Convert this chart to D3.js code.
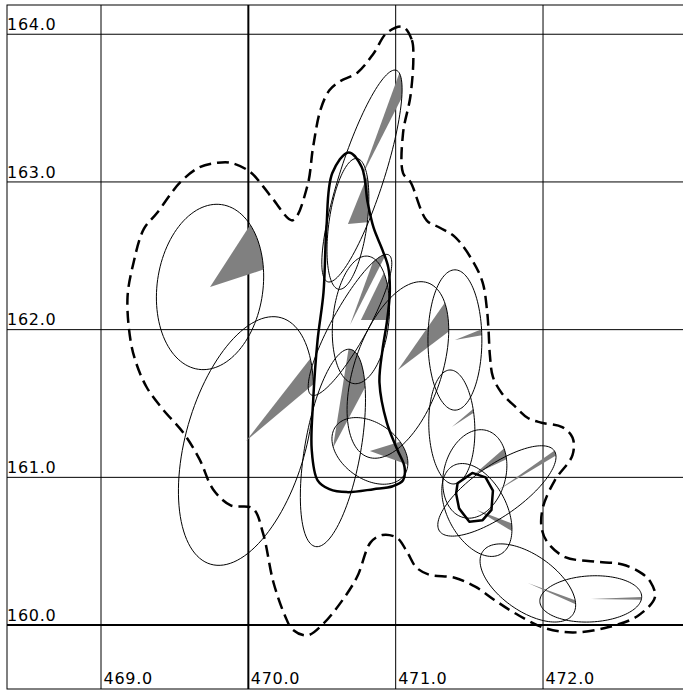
<!DOCTYPE html>
<html><head><meta charset="utf-8">
<script src="https://cdn.jsdelivr.net/npm/d3@7"></script>
<style>html,body{margin:0;padding:0;background:#fff;}svg{display:block;}</style>
</head><body>
<svg id="chart" width="683" height="691"></svg>
<script>
// Axis ticks (grid every unit; the 470 / 160 lines are drawn heavier)
const xTicks = [469, 470, 471, 472];
const yTicks = [160, 161, 162, 163, 164];
const xHeavy = 470, yHeavy = 160;

// Error ellipses: [cx, cy, semi-major, semi-minor, major-axis angle (deg),
//                  wedge start (deg), wedge end (deg)]
const ellipses = [
  [469.740, 162.289, 0.563, 0.359, 82, 18, 57],
  [469.984, 161.246, 0.868, 0.407, 74, 40, 52],
  [470.771, 163.040, 0.753, 0.149, 72, 63, 70],
  [470.676, 162.716, 0.447, 0.129, 82, 5, 68],
  [470.764, 162.066, 0.434, 0.190, 84, 0, 64],
  [470.690, 162.032, 0.542, 0.122, 61, 63, 70],
  [471.015, 161.727, 0.624, 0.295, 71, 37, 55],
  [471.402, 161.930, 0.475, 0.183, 90, 10, 22],
  [471.381, 161.341, 0.386, 0.156, 92, 33, 40],
  [471.537, 161.023, 0.305, 0.210, 75, 25, 41],
  [471.687, 160.908, 0.475, 0.170, 35, 31, 35],
  [471.551, 160.779, 0.340, 0.200, 118, -31, -21],
  [471.897, 160.285, 0.373, 0.190, -35, -24, -20],
  [472.324, 160.177, 0.346, 0.156, 3, -1, 2],
  [470.825, 161.179, 0.285, 0.190, -35, -20, 17],
  [470.574, 161.199, 0.678, 0.190, 80, 62, 81]
];

// Outer (dashed) contour
const outerContour = [
  [471.05,164.05],[471.11,163.96],[471.12,163.85],[471.10,163.58],[471.05,163.33],
  [471.05,163.06],[471.10,163.00],[471.21,162.74],[471.30,162.69],[471.40,162.63],
  [471.52,162.47],[471.59,162.32],[471.62,162.13],[471.63,162.00],[471.64,161.82],
  [471.66,161.68],[471.72,161.57],[471.81,161.48],[471.90,161.40],[471.99,161.37],
  [472.13,161.34],[472.20,161.27],[472.20,161.15],[472.08,160.98],[472.00,160.80],
  [471.99,160.66],[472.03,160.56],[472.15,160.46],[472.35,160.43],[472.54,160.41],
  [472.67,160.35],[472.73,160.29],[472.76,160.19],[472.64,160.06],[472.42,159.98],
  [472.20,159.95],[472.01,159.98],[471.81,160.08],[471.67,160.17],[471.54,160.26],
  [471.40,160.32],[471.23,160.34],[471.14,160.39],[471.08,160.49],[471.01,160.59],
  [470.91,160.61],[470.83,160.56],[470.74,160.33],[470.64,160.17],[470.51,160.01],
  [470.40,159.93],[470.30,159.97],[470.25,160.06],[470.17,160.29],[470.10,160.62],
  [470.03,160.79],[469.88,160.81],[469.76,160.92],[469.67,161.12],[469.56,161.30],
  [469.42,161.46],[469.31,161.61],[469.24,161.77],[469.20,161.93],[469.18,162.22],
  [469.22,162.45],[469.29,162.68],[469.38,162.79],[469.54,163.00],[469.67,163.10],
  [469.79,163.13],[469.88,163.13],[470.01,163.07],[470.10,162.97],[470.17,162.88],
  [470.30,162.74],[470.40,162.97],[470.44,163.24],[470.49,163.49],[470.55,163.62],
  [470.62,163.68],[470.74,163.74],[470.85,163.87],[470.94,164.01]
];

// Inner (solid heavy) contour
const innerContour = [
  [470.68,163.20],[470.77,163.10],[470.81,162.86],[470.85,162.69],[470.91,162.54],
  [470.95,162.42],[470.96,162.25],[470.94,162.05],[470.91,161.86],[470.89,161.64],
  [470.94,161.37],[471.01,161.19],[471.06,161.07],[471.05,160.98],[470.98,160.94],
  [470.85,160.92],[470.67,160.90],[470.55,160.92],[470.47,160.98],[470.43,161.19],
  [470.44,161.52],[470.47,161.93],[470.51,162.25],[470.53,162.69],[470.57,163.06]
];

// Small core contour
const coreContour = [
  [471.42,160.96],[471.52,161.03],[471.61,161.00],[471.66,160.91],[471.65,160.78],
  [471.59,160.71],[471.50,160.70],[471.43,160.79],[471.41,160.89]
];

const svg = d3.select("#chart");
const pL = 7, pT = 5, pR = 683, pB = 689;
const x = d3.scaleLinear().domain([468.362, 472.950]).range([pL, pR]);
const y = d3.scaleLinear().domain([159.567, 164.198]).range([pB, pT]);
const rad = Math.PI / 180;

// grid
const grid = svg.append("g");
grid.selectAll("line.vx").data(xTicks).join("line")
  .attr("x1", d => x(d)).attr("x2", d => x(d))
  .attr("y1", pT).attr("y2", pB)
  .attr("stroke", "#000").attr("stroke-width", d => d === xHeavy ? 2 : 1);
grid.selectAll("line.hy").data(yTicks).join("line")
  .attr("y1", d => y(d)).attr("y2", d => y(d))
  .attr("x1", pL).attr("x2", pR)
  .attr("stroke", "#000").attr("stroke-width", d => d === yHeavy ? 2 : 1);
svg.append("rect").attr("x", pL).attr("y", pT)
  .attr("width", pR - pL + 2).attr("height", pB - pT)
  .attr("fill", "none").attr("stroke", "#000").attr("stroke-width", 1);

// wedges: sector from the ellipse centre to its rim
function wedgePoints(e) {
  const [cx, cy, a, b, ang, w0, w1] = e;
  const pts = [[x(cx), y(cy)]];
  const n = 24;
  for (let i = 0; i <= n; i++) {
    const th = (w0 + (w1 - w0) * i / n) * rad;
    const rel = th - ang * rad;
    const r = 1 / Math.sqrt(Math.pow(Math.cos(rel) / a, 2) + Math.pow(Math.sin(rel) / b, 2));
    pts.push([x(cx + r * Math.cos(th)), y(cy + r * Math.sin(th))]);
  }
  return pts;
}
function ellipsePoints(e) {
  const [cx, cy, a, b, ang] = e;
  const c = Math.cos(ang * rad), s = Math.sin(ang * rad);
  const pts = [];
  for (let i = 0; i < 120; i++) {
    const t = i / 120 * 2 * Math.PI;
    const u = a * Math.cos(t), v = b * Math.sin(t);
    pts.push([x(cx + u * c - v * s), y(cy + u * s + v * c)]);
  }
  return pts;
}
const closedLine = d3.line().curve(d3.curveLinearClosed);

svg.append("g").selectAll("path").data(ellipses).join("path")
  .attr("d", d => closedLine(wedgePoints(d)))
  .attr("fill", "#808080").attr("stroke", "none");

svg.append("g").selectAll("path").data(ellipses).join("path")
  .attr("d", d => closedLine(ellipsePoints(d)))
  .attr("fill", "none").attr("stroke", "#000").attr("stroke-width", 1);

const smooth = d3.line().x(d => x(d[0])).y(d => y(d[1])).curve(d3.curveCatmullRomClosed.alpha(0.5));
const poly = d3.line().x(d => x(d[0])).y(d => y(d[1])).curve(d3.curveLinearClosed);

svg.append("path").attr("d", smooth(outerContour))
  .attr("fill", "none").attr("stroke", "#000").attr("stroke-width", 2.5)
  .attr("stroke-dasharray", "12,6");
svg.append("path").attr("d", smooth(innerContour))
  .attr("fill", "none").attr("stroke", "#000").attr("stroke-width", 2.5);
svg.append("path").attr("d", poly(coreContour))
  .attr("fill", "none").attr("stroke", "#000").attr("stroke-width", 2.5)
  .attr("stroke-linejoin", "round");

// tick labels
const font = "'DejaVu Sans', Verdana, sans-serif";
svg.append("g").selectAll("text").data(yTicks).join("text")
  .attr("x", pL).attr("y", d => y(d) - 4.3)
  .attr("font-family", font).attr("font-size", 16).attr("letter-spacing", 0.7)
  .attr("fill", "#000").text(d => d.toFixed(1));
svg.append("g").selectAll("text").data(xTicks).join("text")
  .attr("x", d => x(d) + 2.5).attr("y", 684)
  .attr("font-family", font).attr("font-size", 16).attr("letter-spacing", 0.7)
  .attr("fill", "#000").text(d => d.toFixed(1));
</script>
</body></html>
